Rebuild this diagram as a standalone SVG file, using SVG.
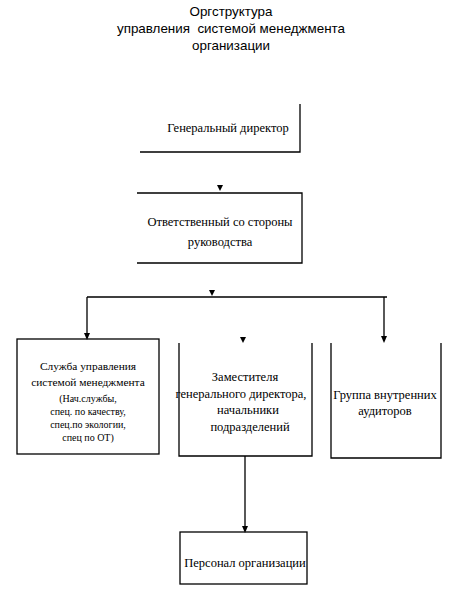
<svg xmlns="http://www.w3.org/2000/svg" width="455" height="608" viewBox="0 0 455 608">
<style>
.ln{fill:none;stroke:#000;stroke-width:1.3}
.ah{fill:#000}
.t{font-family:"Liberation Sans",Arial,sans-serif;font-size:13.4px;text-anchor:middle;fill:#000}
.b{font-family:"Liberation Serif","Times New Roman",serif;font-size:12.5px;text-anchor:middle;fill:#000}
.m{font-family:"Liberation Serif","Times New Roman",serif;font-size:11.4px;text-anchor:middle;fill:#000}
.s{font-family:"Liberation Serif","Times New Roman",serif;font-size:10px;text-anchor:middle;fill:#000}
</style>
<rect width="455" height="608" fill="#fff"/>
<g id="title">
<text class="t" x="231" y="16">Оргструктура</text>
<text class="t" x="231" y="33" xml:space="preserve">управления  системой менеджмента</text>
<text class="t" x="231" y="50">организации</text>
</g>
<g id="connectors">
<polygon class="ah" points="217,185 223,185 220,191"/>
<polygon class="ah" points="209,290 215,290 212,296"/>
<path class="ln" d="M87,297 H387 M87,297 V334 M384,297 V337 M245,456 V527"/>
<polygon class="ah" points="84,333 90,333 87,340"/>
<polygon class="ah" points="381,336 387,336 384,343"/>
<polygon class="ah" points="240,337 246,337 243,343"/>
<polygon class="ah" points="242,526 248,526 245,533"/>
</g>
<g id="node-gendir">
<path class="ln" d="M300,104 V152 H140"/>
<text class="b" x="228" y="132">Генеральный директор</text>
</g>
<g id="node-otv">
<path class="ln" d="M137,193 H302 V263 H137"/>
<text class="b" x="220" y="226">Ответственный со стороны</text>
<text class="b" x="220" y="246">руководства</text>
</g>
<g id="node-sluzhba">
<rect class="ln" x="17" y="339" width="142" height="115"/>
<text class="m" x="88" y="370">Служба управления</text>
<text class="m" x="88" y="386">системой менеджмента</text>
<text class="s" x="88" y="402">(Нач.службы,</text>
<text class="s" x="88" y="415">спец. по качеству,</text>
<text class="s" x="88" y="428">спец.по экологии,</text>
<text class="s" x="88" y="441">спец по ОТ)</text>
</g>
<g id="node-zam">
<path class="ln" d="M179,343 V456 H312 V343"/>
<text class="b" x="245" y="381">Заместителя</text>
<text class="b" x="241" y="398">генерального директора,</text>
<text class="b" x="248" y="414">начальники</text>
<text class="b" x="250" y="431">подразделений</text>
</g>
<g id="node-audit">
<path class="ln" d="M331,343 V458 H441 V343"/>
<text class="b" x="385" y="399">Группа внутренних</text>
<text class="b" x="385" y="415">аудиторов</text>
</g>
<g id="node-personal">
<rect class="ln" x="180" y="532" width="127" height="52"/>
<text class="b" x="245" y="567">Персонал организации</text>
</g>
</svg>
